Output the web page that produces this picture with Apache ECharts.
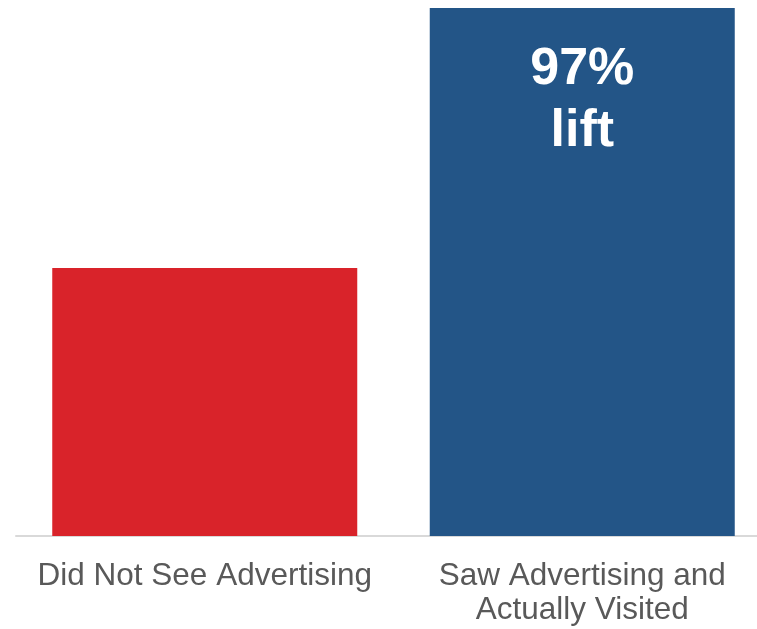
<!DOCTYPE html>
<html>
<head>
<meta charset="utf-8">
<script src="https://cdn.jsdelivr.net/npm/echarts@6/dist/echarts.min.js"></script>
<style>
html,body{margin:0;padding:0;background:#fff;}
#chart{width:757px;height:629px;}
</style>
</head>
<body>
<div id="chart"></div>
<script>
const categories = ['Did Not See Advertising', 'Saw Advertising and\nActually Visited'];
const values = [100, 197];
const barColors = ['#D9232A', '#235587'];
const barLabels = ['', '97%\nlift'];

const chart = echarts.init(document.getElementById('chart'), null, {renderer: 'canvas'});
chart.setOption({
  animation: false,
  grid: {left: 16, width: 755, top: 8, bottom: 93, containLabel: false, outerBoundsMode: 'none'},
  xAxis: {
    type: 'category',
    data: categories,
    axisLine: {show: true, lineStyle: {color: '#D9D9D9', width: 2}},
    axisTick: {show: false},
    axisLabel: {
      interval: 0,
      color: '#595959',
      fontFamily: 'Liberation Sans, Arial, sans-serif',
      fontSize: 31.5,
      lineHeight: 34,
      margin: 23
    }
  },
  yAxis: {
    type: 'value', min: 0, max: 197, show: false,
    splitLine: {show: false}
  },
  series: [{
    type: 'bar',
    barWidth: 305,
    data: values.map((v, i) => ({
      value: v,
      itemStyle: {color: barColors[i]},
      label: {
        show: barLabels[i] !== '',
        formatter: barLabels[i],
        position: 'insideTop',
        distance: 31,
        color: '#FFFFFF',
        fontWeight: 'bold',
        fontFamily: 'Liberation Sans, Arial, sans-serif',
        fontSize: 52,
        lineHeight: 62
      }
    }))
  }]
});
</script>
</body>
</html>
